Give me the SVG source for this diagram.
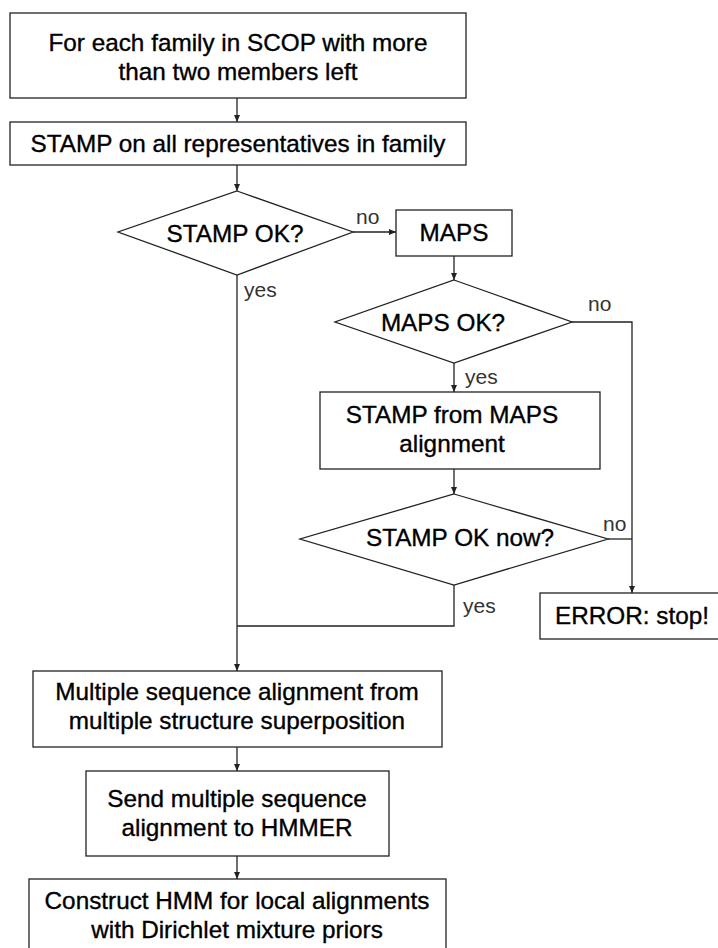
<svg xmlns="http://www.w3.org/2000/svg" width="718" height="948" viewBox="0 0 718 948">
<style>
.box{fill:#fff;stroke:#222;stroke-width:1.3}
.t{font-family:"Liberation Sans",Arial,sans-serif;font-size:24.3px;fill:#000;stroke:#000;stroke-width:0.35;text-anchor:middle}
.l{font-family:"Liberation Sans",Arial,sans-serif;font-size:21px;fill:#333}
.c{fill:none;stroke:#222;stroke-width:1.3}
</style>
<defs>
<marker id="ah" markerWidth="8" markerHeight="8" refX="7" refY="4" orient="auto" markerUnits="userSpaceOnUse">
<path d="M0,1 L7,4 L0,7 Z" fill="#222"/>
</marker>
</defs>
<rect width="718" height="948" fill="#fff"/>
<g id="connectors">
<line class="c" x1="237" y1="98" x2="237" y2="122" marker-end="url(#ah)"/>
<line class="c" x1="237" y1="165" x2="237" y2="191" marker-end="url(#ah)"/>
<line class="c" x1="353" y1="232" x2="396" y2="232" marker-end="url(#ah)"/>
<line class="c" x1="454" y1="256" x2="454" y2="280" marker-end="url(#ah)"/>
<line class="c" x1="454" y1="363" x2="454" y2="392" marker-end="url(#ah)"/>
<line class="c" x1="454" y1="469" x2="454" y2="494" marker-end="url(#ah)"/>
<polyline class="c" points="572,322 632,322 632,593" marker-end="url(#ah)"/>
<line class="c" x1="608" y1="539" x2="632" y2="539"/>
<polyline class="c" points="454,585 454,626 237,626"/>
<line class="c" x1="237" y1="275" x2="237" y2="671" marker-end="url(#ah)"/>
<line class="c" x1="237" y1="747" x2="237" y2="771" marker-end="url(#ah)"/>
<line class="c" x1="237" y1="856" x2="237" y2="879" marker-end="url(#ah)"/>
<text class="l" x="356" y="224">no</text>
<text class="l" x="244" y="297">yes</text>
<text class="l" x="588" y="311">no</text>
<text class="l" x="465" y="384">yes</text>
<text class="l" x="603" y="531">no</text>
<text class="l" x="463" y="613">yes</text>
</g>
<g id="start">
<rect class="box" x="10" y="13" width="456" height="85"/>
<text class="t" x="238" y="51">For each family in SCOP with more</text>
<text class="t" x="238" y="80">than two members left</text>
</g>
<g id="stamp">
<rect class="box" x="10" y="122" width="456" height="43"/>
<text class="t" x="238" y="152">STAMP on all representatives in family</text>
</g>
<g id="stampok">
<polygon class="box" points="237,191 353,232 237,275 118,232"/>
<text class="t" x="235" y="242">STAMP OK?</text>
</g>
<g id="maps">
<rect class="box" x="396" y="210" width="116" height="46"/>
<text class="t" x="454" y="241">MAPS</text>
</g>
<g id="mapsok">
<polygon class="box" points="454,280 572,322 454,363 335,322"/>
<text class="t" x="443" y="331">MAPS OK?</text>
</g>
<g id="stampfrommaps">
<rect class="box" x="320" y="392" width="280" height="77"/>
<text class="t" x="452" y="423">STAMP from MAPS</text>
<text class="t" x="452" y="452">alignment</text>
</g>
<g id="stampoknow">
<polygon class="box" points="454,494 608,539 454,585 300,539"/>
<text class="t" x="460" y="546">STAMP OK now?</text>
</g>
<g id="error">
<rect class="box" x="540" y="593" width="180" height="46"/>
<text class="t" x="632" y="624">ERROR: stop!</text>
</g>
<g id="msa">
<rect class="box" x="33" y="671" width="409" height="76"/>
<text class="t" x="237" y="700">Multiple sequence alignment from</text>
<text class="t" x="237" y="729">multiple structure superposition</text>
</g>
<g id="send">
<rect class="box" x="86" y="771" width="303" height="85"/>
<text class="t" x="237" y="807">Send multiple sequence</text>
<text class="t" x="237" y="836">alignment to HMMER</text>
</g>
<g id="construct">
<rect class="box" x="29" y="879" width="417" height="75"/>
<text class="t" x="237" y="909">Construct HMM for local alignments</text>
<text class="t" x="237" y="938">with Dirichlet mixture priors</text>
</g>
</svg>
